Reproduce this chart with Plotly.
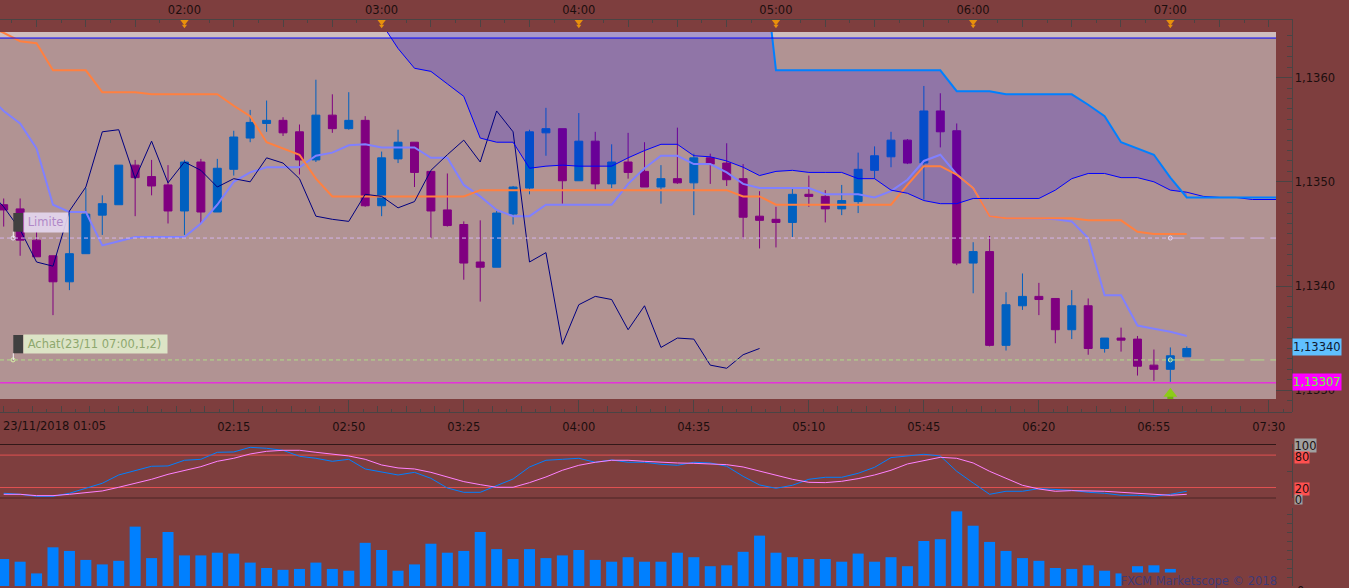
import numpy as np
import plotly.graph_objects as go

# ---- data: prices in 1e-5 units (points), bar index 0 = 01:05, 5-minute bars
OPEN = [113478,113474,113444,113429,113404,113431,113468,113478,113516,113505,113497,113472,113519,113471,113512,113542,113556,113559,113548,113521,113564,113551,113559,113477,113522,113538,113510,113473,
        113459,113423,113418,113469,113494,113547,113551,113501,113539,113498,113519,113510,113495,113503,113499,113523,113518,113503,113467,113464,113461,113488,113486,113474,113481,113511,113524,
        113540,113518,113568,113549,113422,113433,113343,113381,113390,113388,113358,113381,113340,113350,113349,113324,113320,113332]
HIGH = [113484,113484,113452,113429,113470,113494,113487,113516,113521,113521,113516,113521,113522,113522,113549,113569,113578,113562,113555,113598,113584,113586,113563,113529,113550,113538,113510,113508,
        113462,113463,113472,113496,113550,113571,113551,113566,113548,113536,113547,113538,113516,113552,113527,113527,113537,113517,113491,113476,113493,113506,113492,113497,113528,113534,113548,
        113541,113592,113585,113556,113442,113448,113394,113412,113403,113388,113396,113388,113350,113360,113352,113339,113341,113342]
LOW = [113457,113429,113428,113372,113396,113431,113449,113478,113467,113487,113460,113449,113460,113471,113506,113538,113548,113544,113507,113519,113547,113550,113476,113467,113518,113495,113446,113457,
       113406,113385,113418,113459,113488,113525,113479,113501,113492,113494,113503,113495,113479,113498,113468,113498,113496,113445,113436,113437,113447,113476,113461,113468,113470,113503,113514,
       113517,113483,113533,113420,113393,113342,113338,113377,113372,113345,113349,113334,113336,113337,113314,113309,113308,113332]
CLOSE = [113473,113444,113428,113404,113431,113469,113479,113516,113504,113496,113472,113519,113471,113513,113543,113557,113559,113547,113521,113564,113551,113559,113477,113523,113538,113509,113472,113458,
         113422,113418,113470,113495,113548,113551,113501,113539,113498,113519,113509,113495,113503,113499,113523,113517,113502,113466,113463,113461,113488,113486,113474,113482,113512,113525,113540,
         113518,113568,113548,113422,113433,113343,113382,113390,113387,113358,113381,113340,113350,113348,113323,113320,113333,113340]

# first value of these three belongs to bar -1 (just left of the visible window)
KIJUN = [113650,113643,113635,113633,113607,113607,113607,113586,113586,113586,113584,113584,113584,113584,113584,113573,113563,113538,113532,113526,113503,
         113486,113486,113486,113486,113486,113486,113486,113486,113486,113492,113492,113492,113492,113492,113492,113492,113492,113492,113492,113492,113492,113492,113492,113492,113492,
         113486,113486,113478,113478,113478,113478,113478,113478,113478,113478,113497,113515,113515,113507,113494,113467,113465,113465,113465,113465,113465,113463,113463,113463,113452,113450,113450,113450]
TENKAN = [113583,113568,113556,113532,113478,113471,113471,113439,113443,113447,113447,113447,113447,113460,113478,113500,113509,113514,113514,113514,113525,113528,113535,113536,113533,113533,113533,113523,113523,
          113497,113486,113473,113467,113467,113478,113478,113478,113478,113478,113498,113513,113525,113525,113517,113517,113509,113498,113494,113494,113494,113494,113488,113488,113488,113485,113491,
          113502,113520,113526,113507,113494,113467,113465,113465,113465,113464,113462,113446,113391,113391,113362,113359,113356,113352]
CHIKOU = [113493,113476,113454,113423,113419,113472,113495,113548,113550,113503,113539,113499,113519,113511,113495,113503,113500,113523,113518,113503,113467,113464,113462,113488,113486,113475,113481,113511,113526,
          113540,113519,113568,113548,113423,113432,113344,113382,113390,113387,113358,113381,113341,113350,113349,113324,113321,113334,113340]

# cloud spans start at bar 23
SENKOU_A = [113652,113628,113609,113606,113594,113582,113542,113538,113538,113513,113515,113516,113515,113515,113515,113523,113530,113536,113536,113525,113524,113520,113514,113506,113510,113511,113509,113509,113509,113503,113503,113492,
            113489,113482,113479,113479,113484,113484,113484,113484,113484,113492,113503,113508,113508,113504,113504,113500,113492,113490,113486,113485,113485,113483,113483,113483]
SENKOU_B = [113746,113746,113746,113746,113746,113746,113746,113746,113746,113746,113746,113746,113746,113746,113746,113746,113746,113746,113746,113746,113746,113746,113746,113746,
            113607,113607,113607,113607,113607,113607,113607,113607,113607,113607,113607,113587,113587,113587,113584,113584,113584,113584,113584,113574,113563,113538,113532,113526,113504,113485,113485,113485,113485,113485,113485,113485]

STOCH_K = [9.3,7.4,3.7,3.7,9.3,19.1,27.8,43.2,50.6,59.3,59.9,70.4,72.2,85.2,85.8,94.4,92.6,88.9,77.8,74.1,68.5,72.2,54.3,48.8,43.2,48.1,37.0,19.1,
           11.1,11.1,22.8,35.8,58.0,70.4,72.2,74.1,66.7,71.0,66.7,66.7,63.0,61.1,66.7,65.4,59.3,40.7,24.7,18.5,24.1,35.2,38.9,38.9,46.3,57.4,75.3,
           79.0,81.5,78.4,50.0,28.4,7.4,13.0,13.0,17.9,16.7,14.8,11.1,9.3,5.6,5.6,3.7,7.4,13.0]
STOCH_D = [7.4,7.4,4.9,4.9,7.4,9.9,13.6,20.4,27.8,35.2,44.4,51.9,58.6,68.5,74.1,82.1,87.0,88.9,88.9,85.2,81.5,78.4,72.2,61.7,56.2,54.3,48.1,38.9,
           30.9,25.3,20.4,20.4,29.0,39.5,51.9,61.1,66.7,70.4,70.4,68.5,66.7,65.4,64.8,64.2,62.3,58.0,50.6,42.6,35.2,29.6,29.0,31.5,36.4,43.2,51.9,
           63.6,70.4,75.9,74.1,65.4,50.0,37.7,24.1,17.3,13.0,14.2,14.2,13.0,11.1,9.3,7.4,5.6,7.4]
VOLUME = [30,27,14,43,39,29,24,28,66,31,60,34,34,37,36,26,20,18,19,26,19,17,48,40,17,24,47,37,
          39,60,41,30,41,31,34,40,29,27,32,27,27,37,32,22,23,38,56,37,32,30,30,27,36,27,32,
          22,50,52,83,67,49,39,31,28,20,19,23,17,14,22,23,19,10]

HOUR_BARS = [11,23,35,47,59,71]
HOUR_LABELS = ["02:00","03:00","04:00","05:00","06:00","07:00"]
TIME_BARS = [14,21,28,35,42,49,56,63,70,77]
TIME_LABELS = ["02:15","02:50","03:25","04:00","04:35","05:10","05:45","06:20","06:55","07:30"]

LEVEL_TOP = 1.13638
LEVEL_LIMIT = 1.13446
LEVEL_ENTRY = 1.13329
LEVEL_BID = 1.13307
ENTRY_BAR = 71
ARROW_HEAD = 1.132965
ARROW_STEM = 1.13294

BG = "#7E3E3E"
PLOTBG = "#B19393"
AXC = "#4A4444"
TXT = "#1C0E0E"
FONT = "DejaVu Sans"

W, H = 1349, 588
def px(x): return x / W
def py(y): return 1 - y / H

P = lambda a: np.array(a) / 1e5
idx = np.arange(len(OPEN))
idx_l = np.arange(-1, len(OPEN))
idx_s = np.arange(23, 23 + len(SENKOU_A))
n_cloud = 72 - 23 + 1

X_RANGE = [-0.225, 77.43]
X_RANGE_LONG = [-0.225, 78.38]
Y_RANGE = [1.132915, 1.136438]
Y_RANGE_LONG = [1.132788, 1.136567]

fig = go.Figure()

# carriers so that the ruler axes are drawn (first, so the marks sit above them)
for xa in ("x2", "x3", "x4", "x5"):
    fig.add_trace(go.Scatter(x=[0], y=[1.134], mode="lines", xaxis=xa, yaxis="y5",
                             showlegend=False, hoverinfo="skip"))

fig.add_trace(go.Candlestick(
    x=idx, open=P(OPEN), high=P(HIGH), low=P(LOW), close=P(CLOSE),
    increasing=dict(line=dict(color="#0060C0", width=1), fillcolor="#0060C0"),
    decreasing=dict(line=dict(color="#800080", width=1), fillcolor="#800080"),
    whiskerwidth=0, showlegend=False, hoverinfo="skip", xaxis="x", yaxis="y"))

# cloud
fig.add_trace(go.Scatter(x=idx_s[:n_cloud], y=P(SENKOU_A)[:n_cloud], mode="lines",
                         line=dict(width=0), showlegend=False, hoverinfo="skip"))
fig.add_trace(go.Scatter(x=idx_s[:n_cloud], y=P(SENKOU_B)[:n_cloud], mode="lines", fill="tonexty",
                         fillcolor="rgba(17,0,252,0.2)", line=dict(width=0), showlegend=False, hoverinfo="skip"))

def line(x, y, color, width):
    fig.add_trace(go.Scatter(x=x, y=y, mode="lines", line=dict(color=color, width=width),
                             showlegend=False, hoverinfo="skip"))

line(idx_l, P(TENKAN), "#8080FF", 2)
line(idx_l, P(KIJUN), "#FF8040", 2)
line(idx_l[:len(CHIKOU)], P(CHIKOU), "#000080", 1)
line(idx_s, P(SENKOU_A), "#0000FF", 1)
line(idx_s, P(SENKOU_B), "#0080FF", 2)

# order markers
fig.add_trace(go.Scatter(x=[0.57, ENTRY_BAR], y=[LEVEL_LIMIT, LEVEL_LIMIT], mode="markers",
                         marker=dict(symbol="circle-open", size=4, color="#E8D8F4", line=dict(width=1)),
                         showlegend=False, hoverinfo="skip"))
fig.add_trace(go.Scatter(x=[0.57, ENTRY_BAR], y=[LEVEL_ENTRY, LEVEL_ENTRY], mode="markers",
                         marker=dict(symbol="circle-open", size=4, color="#D8F0A8", line=dict(width=1)),
                         showlegend=False, hoverinfo="skip"))
# buy arrow: stem and head
fig.add_trace(go.Scatter(x=[ENTRY_BAR], y=[ARROW_STEM], mode="markers",
                         marker=dict(symbol="square", size=6, color="#70B010", line=dict(width=0)),
                         showlegend=False, hoverinfo="skip"))
fig.add_trace(go.Scatter(x=[ENTRY_BAR], y=[ARROW_HEAD], mode="markers",
                         marker=dict(symbol="triangle-up", size=12, color="#8CCC18", line=dict(width=0)),
                         showlegend=False, hoverinfo="skip"))

# hour triangles on the top strip: body and tip
fig.add_trace(go.Scatter(x=HOUR_BARS, y=[0.8] * len(HOUR_BARS), mode="markers", yaxis="y4",
                         marker=dict(symbol="triangle-down", size=8.5, color="#E8900C"),
                         showlegend=False, hoverinfo="skip", cliponaxis=False))
fig.add_trace(go.Scatter(x=HOUR_BARS, y=[0.45] * len(HOUR_BARS), mode="markers", yaxis="y4",
                         marker=dict(symbol="triangle-down", size=4.5, color="#E8900C"),
                         showlegend=False, hoverinfo="skip", cliponaxis=False))

# stochastic
fig.add_trace(go.Scatter(x=idx, y=STOCH_K, mode="lines", yaxis="y2", line=dict(color="#0080FF", width=1),
                         showlegend=False, hoverinfo="skip"))
fig.add_trace(go.Scatter(x=idx, y=STOCH_D, mode="lines", yaxis="y2", line=dict(color="#FF80FF", width=1),
                         showlegend=False, hoverinfo="skip"))

# volume
fig.add_trace(go.Bar(x=idx, y=VOLUME, yaxis="y3", marker=dict(color="#0080FF", line=dict(width=0)),
                     showlegend=False, hoverinfo="skip"))

tf = dict(family=FONT, size=11.5, color=TXT)

shapes = [
    dict(type="rect", layer="below", xref="x domain", yref="y domain", x0=0, x1=1, y0=0, y1=1,
         fillcolor=PLOTBG, line=dict(width=0)),
    dict(type="rect", layer="below", xref="x domain", yref="y", x0=0, x1=1, y0=LEVEL_TOP, y1=Y_RANGE[1],
         fillcolor="#CFBEBE", line=dict(width=0)),
    dict(type="line", layer="above", xref="x domain", yref="y", x0=0, x1=1, y0=LEVEL_TOP, y1=LEVEL_TOP,
         line=dict(color="#0000FF", width=1)),
    dict(type="line", layer="above", xref="x domain", yref="y", x0=0, x1=1, y0=LEVEL_BID, y1=LEVEL_BID,
         line=dict(color="#FF00FF", width=1)),
    dict(type="line", layer="above", xref="x", yref="y", x0=X_RANGE[0], x1=ENTRY_BAR, y0=LEVEL_LIMIT, y1=LEVEL_LIMIT,
         line=dict(color="#D4B4EC", width=1, dash="4px,3px")),
    dict(type="line", layer="above", xref="x", yref="y", x0=ENTRY_BAR, x1=X_RANGE[1], y0=LEVEL_LIMIT, y1=LEVEL_LIMIT,
         line=dict(color="#D4B4EC", width=1, dash="14px,6px")),
    dict(type="line", layer="above", xref="x", yref="y", x0=X_RANGE[0], x1=ENTRY_BAR, y0=LEVEL_ENTRY, y1=LEVEL_ENTRY,
         line=dict(color="#B0DC88", width=1, dash="4px,3px")),
    dict(type="line", layer="above", xref="x", yref="y", x0=ENTRY_BAR, x1=X_RANGE[1], y0=LEVEL_ENTRY, y1=LEVEL_ENTRY,
         line=dict(color="#B0DC88", width=1, dash="14px,6px")),
]
for lv, col in ((100, "#000000"), (80, "#E05050"), (20, "#E05050"), (0, "#000000")):
    shapes.append(dict(type="line", layer="below", xref="x domain", yref="y2", x0=0, x1=1, y0=lv, y1=lv,
                       line=dict(color=col, width=1)))
# order tag blocks
for top, bot, conn_end in ((213, 231.7, 238), (335, 353.3, 360)):
    shapes.append(dict(type="rect", xref="paper", yref="paper", x0=px(13.3), x1=px(23), y0=py(bot), y1=py(top),
                       fillcolor="#404040", line=dict(width=0)))
    shapes.append(dict(type="line", xref="paper", yref="paper", x0=px(13.3), x1=px(13.3), y0=py(conn_end), y1=py(bot),
                       line=dict(color="#F4F0F4", width=1)))

def box(text, x0, x1, y0, y1, bg, col, size=11.5, pad=0, align="left"):
    return dict(text=text, xref="paper", yref="paper", x=px(x0), y=py((y0 + y1) / 2), xanchor="left", yanchor="middle",
                width=x1 - x0 - 2 * pad, height=y1 - y0 - 2 * pad, borderpad=pad, bgcolor=bg, align=align, valign="middle",
                showarrow=False, font=dict(family=FONT, size=size, color=col))

annotations = [
    dict(text="23/11/2018 01:05", xref="paper", yref="paper", x=px(1), y=py(426), xanchor="left", yanchor="middle",
         showarrow=False, font=tf),
    box(" Limite", 23, 66.7, 213, 231.7, "rgba(228,214,238,0.92)", "#B088C8"),
    box(" Achat(23/11 07:00,1,2)", 23, 165.7, 335, 353.3, "rgba(222,232,200,0.95)", "#8EA86E"),
    box("1,13340", 1292.3, 1340, 339, 355, "#60C0FF", "#101830", align="center"),
    box("1,13307", 1292.3, 1340, 374, 389.7, "#FF00FF", "#66FF33", align="center"),
    box("100", 1294, 1315, 439, 452, "#A0A0A0", TXT, align="center"),
    box("80", 1294, 1308, 452, 462.7, "#FF5050", TXT, align="center"),
    box("20", 1294, 1308, 482.7, 494.7, "#FF5050", TXT, align="center"),
    box("0", 1294, 1301, 494.7, 503.7, "#A0A0A0", TXT, align="center"),
    dict(text="0", xref="paper", yref="paper", x=px(1295), y=py(591), xanchor="left", yanchor="middle",
         showarrow=False, font=tf),
    box("FXCM Marketscope © 2018", 1121, 1276, 573, 588, BG, "#3E3A78", size=11.5, align="right"),
]

hidden_x = dict(showticklabels=False, ticks="", showgrid=False, zeroline=False, showline=False)

bot_major = np.arange(0, 79, 7)
top_major = [v for v in range(2, 79, 3) if v not in HOUR_BARS]

fig.update_layout(
    width=W, height=H, margin=dict(l=0, r=0, t=0, b=0, pad=0), autosize=False,
    paper_bgcolor=BG, plot_bgcolor="rgba(0,0,0,0)", showlegend=False, separators=",.",
    boxgap=0.31, bargap=0.33, font=dict(family=FONT, size=11.5, color=TXT),
    shapes=shapes, annotations=annotations,
    xaxis=dict(domain=[0, px(1276)], range=X_RANGE, anchor="y", rangeslider=dict(visible=False), **hidden_x),
    yaxis=dict(domain=[py(399), py(32)], range=Y_RANGE, anchor="x", showticklabels=False, ticks="",
               showgrid=False, zeroline=False),
    yaxis2=dict(domain=[py(498.3), py(444.3)], range=[0, 100], anchor="free", position=px(1291.5), side="right",
                tickmode="array", tickvals=[0, 50, 100], ticks="inside", ticklen=5, tickcolor=AXC,
                showticklabels=False, showgrid=False, zeroline=False, showline=True, linecolor=AXC, linewidth=1),
    yaxis3=dict(domain=[py(586), py(508)], range=[0, 86.7], anchor="free", position=px(1291.5), side="right",
                tickmode="array", tickvals=list(range(0, 90, 10)), showticklabels=False,
                ticks="inside", ticklen=5, tickcolor=AXC,
                showgrid=False, zeroline=False, showline=True, linecolor=AXC, linewidth=1),
    yaxis4=dict(domain=[py(32), py(18.5)], range=[0, 1], visible=False),
    yaxis5=dict(domain=[py(412.3), py(18.5)], range=Y_RANGE_LONG, anchor="free", position=px(1291.5), side="right",
                tickmode="array", tickvals=[1.133, 1.134, 1.135, 1.136], tickformat=".4f",
                ticks="inside", ticklen=16, tickcolor=AXC, tickfont=tf,
                minor=dict(tickmode="array", tickvals=[round(1.1329 + 0.0001 * k, 4) for k in range(36)],
                           ticks="inside", ticklen=5, tickcolor=AXC),
                showgrid=False, zeroline=False, showline=True, linecolor=AXC, linewidth=1),
    xaxis2=dict(domain=[0, px(1291.5)], range=X_RANGE_LONG, anchor="free", position=py(412.3), side="bottom",
                tickmode="array", tickvals=bot_major,
                ticktext=["" if v not in TIME_BARS else TIME_LABELS[TIME_BARS.index(v)] for v in bot_major],
                ticks="inside", ticklen=12, tickcolor=AXC, tickfont=tf, ticklabelstandoff=4,
                minor=dict(tickmode="array", tickvals=np.arange(0, 79, 0.875), ticks="inside", ticklen=3, tickcolor=AXC),
                showgrid=False, zeroline=False, showline=True, linecolor=AXC, linewidth=1),
    xaxis3=dict(domain=[0, px(1291.5)], range=X_RANGE_LONG, anchor="free", position=py(412.3), side="bottom",
                tickmode="array", tickvals=np.arange(0, 79, 1.75), ticks="inside", ticklen=6, tickcolor=AXC,
                showticklabels=False, showgrid=False, zeroline=False, showline=False),
    # top ruler: hour labels (their ticks lie under the triangles), minor ticks and the other long ticks
    xaxis4=dict(domain=[0, px(1291.5)], range=X_RANGE_LONG, anchor="free", position=py(18.5), side="top",
                tickmode="array", tickvals=HOUR_BARS, ticktext=HOUR_LABELS,
                ticks="", tickfont=tf,
                minor=dict(tickmode="array", tickvals=np.arange(0.5, 79, 3), ticks="inside", ticklen=3, tickcolor=AXC),
                showgrid=False, zeroline=False, showline=True, linecolor=AXC, linewidth=1),
    xaxis5=dict(domain=[0, px(1291.5)], range=X_RANGE_LONG, anchor="free", position=py(18.5), side="top",
                tickmode="array", tickvals=top_major, ticks="inside", ticklen=7, tickcolor=AXC,
                showticklabels=False, showgrid=False, zeroline=False, showline=False),
)

fig.write_html("out.html", config=dict(displayModeBar=False), post_script=(
    "document.body.style.margin='0';document.body.style.background='%s';"
    "document.documentElement.style.overflow='hidden';" % BG))
